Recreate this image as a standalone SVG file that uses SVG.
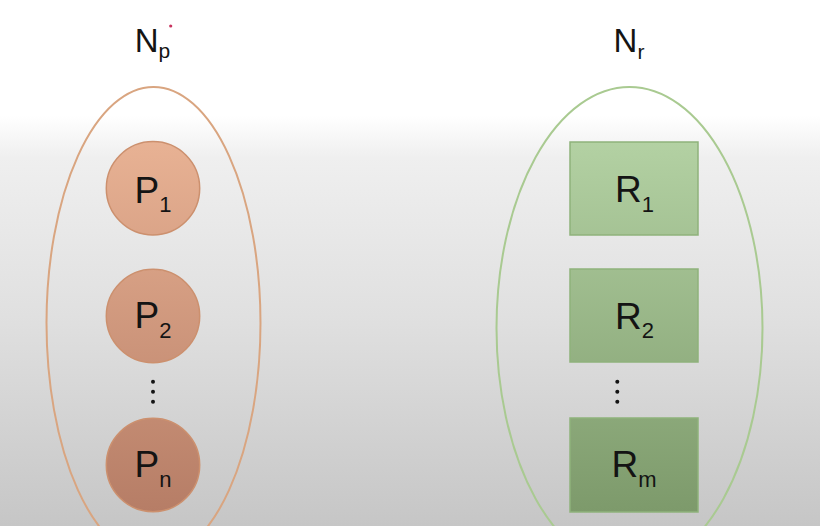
<svg xmlns="http://www.w3.org/2000/svg" width="820" height="526" viewBox="0 0 820 526">
  <defs>
    <linearGradient id="bg" x1="0" y1="0" x2="0" y2="526" gradientUnits="userSpaceOnUse">
      <stop offset="0" stop-color="#FFFFFF"/>
      <stop offset="0.22" stop-color="#FFFFFF"/>
      <stop offset="0.3" stop-color="#EFEFEF"/>
      <stop offset="0.6" stop-color="#E0E0E0"/>
      <stop offset="1" stop-color="#C6C6C6"/>
    </linearGradient>
    <linearGradient id="pfill" x1="0" y1="141" x2="0" y2="512" gradientUnits="userSpaceOnUse">
      <stop offset="0" stop-color="#E8B294"/>
      <stop offset="1" stop-color="#B67D66"/>
    </linearGradient>
    <linearGradient id="rfill" x1="0" y1="142" x2="0" y2="512" gradientUnits="userSpaceOnUse">
      <stop offset="0" stop-color="#B3D1A3"/>
      <stop offset="1" stop-color="#7D9A6B"/>
    </linearGradient>
  </defs>
  <style>
    .lbl { font-family: "Liberation Sans", Arial, sans-serif; fill: #141414; text-anchor: middle; }
    .big { font-size: 37px; }
    .sub { font-size: 22px; }
    .title { font-size: 33px; }
    .tsub { font-size: 21px; }
    .proc { fill: url(#pfill); stroke: #CC906E; stroke-width: 1.5; }
    .res { fill: url(#rfill); stroke: #8FB27B; stroke-width: 1.5; }
    .dot { fill: #141414; }
  </style>
  <rect x="0" y="0" width="820" height="526" fill="url(#bg)"/>

  <g id="set-p">
    <ellipse cx="153.5" cy="323" rx="107" ry="236" fill="none" stroke="#D9A580" stroke-width="2"/>
    <text class="lbl title" x="152.5" y="52">N<tspan class="tsub" dy="6">p</tspan></text>
    <circle cx="170.7" cy="26" r="1.6" fill="#C8325E"/>
  </g>

  <g id="set-r">
    <ellipse cx="629.5" cy="328" rx="133" ry="241" fill="none" stroke="#A9CA91" stroke-width="2"/>
    <text class="lbl title" x="629" y="52">N<tspan class="tsub" dy="7">r</tspan></text>
  </g>

  <g id="p1">
    <circle class="proc" cx="153" cy="188.3" r="46.7"/>
    <text class="lbl big" x="153" y="202.7">P<tspan class="sub" dy="9.6">1</tspan></text>
  </g>
  <g id="p2">
    <circle class="proc" cx="153" cy="316" r="46.7"/>
    <text class="lbl big" x="153" y="328.3">P<tspan class="sub" dy="10">2</tspan></text>
  </g>
  <g id="p-dots">
    <circle class="dot" cx="153" cy="381.7" r="2"/>
    <circle class="dot" cx="153" cy="391.7" r="2"/>
    <circle class="dot" cx="153" cy="401.7" r="2"/>
  </g>
  <g id="pn">
    <circle class="proc" cx="153" cy="465" r="46.7"/>
    <text class="lbl big" x="153" y="477">P<tspan class="sub" dy="10">n</tspan></text>
  </g>

  <g id="r1">
    <rect class="res" x="570" y="142" width="128" height="93"/>
    <text class="lbl big" x="634.5" y="201.7">R<tspan class="sub" dy="10">1</tspan></text>
  </g>
  <g id="r2">
    <rect class="res" x="570" y="269" width="128" height="93"/>
    <text class="lbl big" x="634.5" y="329">R<tspan class="sub" dy="9.3">2</tspan></text>
  </g>
  <g id="r-dots">
    <circle class="dot" cx="617.3" cy="381.7" r="2"/>
    <circle class="dot" cx="617.3" cy="391.7" r="2"/>
    <circle class="dot" cx="617.3" cy="401.7" r="2"/>
  </g>
  <g id="rm">
    <rect class="res" x="570" y="418" width="128" height="94"/>
    <text class="lbl big" x="634" y="477.3">R<tspan class="sub" dy="9.4">m</tspan></text>
  </g>

  <g id="connectors"></g>
</svg>
